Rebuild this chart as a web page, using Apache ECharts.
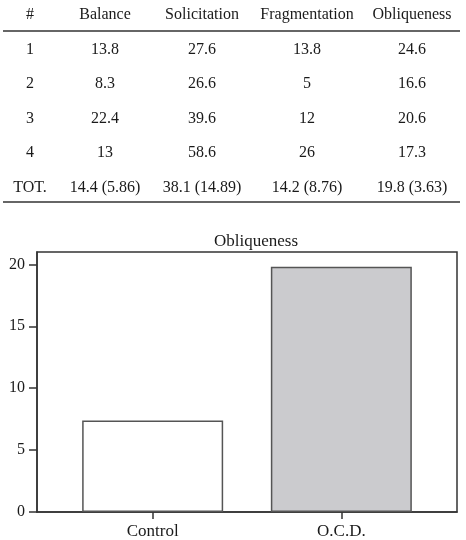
<!DOCTYPE html>
<html>
<head>
<meta charset="utf-8">
<script src="https://cdn.jsdelivr.net/npm/echarts@6/dist/echarts.min.js"></script>
<style>
  html, body { margin: 0; padding: 0; background: #fff; }
  #main { width: 466px; height: 540px; }
</style>
</head>
<body>
<div id="main"></div>
<script>
// table data
var header = ['#', 'Balance', 'Solicitation', 'Fragmentation', 'Obliqueness'];
var rowIds = ['1', '2', '3', '4', 'TOT.'];
var balance = ['13.8', '8.3', '22.4', '13', '14.4 (5.86)'];
var solicitation = ['27.6', '26.6', '39.6', '58.6', '38.1 (14.89)'];
var fragmentation = ['13.8', '5', '12', '26', '14.2 (8.76)'];
var obliqueness = ['24.6', '16.6', '20.6', '17.3', '19.8 (3.63)'];

// chart data
var groups = ['Control', 'O.C.D.'];
var obliquenessMeans = [7.4, 19.8];
var yTicks = [0, 5, 10, 15, 20];

var serif = "'Liberation Serif', 'Times New Roman', serif";
var ink = '#1a1a1a';

// table layout
var colX = [30, 105, 202, 307, 412];
var headerY = 15;
var rowY = [49.5, 84, 118.5, 153, 187.5];

var graphics = [];
function addText(x, y, str) {
    graphics.push({
        type: 'text', x: x, y: y, silent: true,
        style: { text: str, fill: ink, font: '16px ' + serif, align: 'center', verticalAlign: 'middle' }
    });
}
header.forEach(function (h, i) { addText(colX[i], headerY, h); });
var columns = [rowIds, balance, solicitation, fragmentation, obliqueness];
columns.forEach(function (col, c) {
    col.forEach(function (v, r) { addText(colX[c], rowY[r], v); });
});
[31, 202].forEach(function (y) {
    graphics.push({
        type: 'line', silent: true,
        shape: { x1: 3, y1: y, x2: 460, y2: y },
        style: { stroke: '#333', lineWidth: 1.5 }
    });
});

var myChart = echarts.init(document.getElementById('main'));

option = {
    animation: false,
    backgroundColor: '#fff',
    title: {
        text: 'Obliqueness',
        left: 251,
        top: 228,
        textAlign: 'center',
        textStyle: { fontFamily: serif, fontSize: 17, fontWeight: 'normal', color: ink }
    },
    graphic: graphics,
    grid: {
        left: 37, right: 9, top: 252, bottom: 27,
        show: true, borderColor: '#333', borderWidth: 1.5
    },
    xAxis: {
        type: 'value',
        min: 0.387,
        max: 2.613,
        splitLine: { show: false },
        axisLine: { show: true, lineStyle: { color: '#333', width: 1.5 } },
        axisTick: { show: true, length: 7, customValues: [1, 2], lineStyle: { color: '#333', width: 1.5 } },
        axisLabel: {
            customValues: [1, 2],
            margin: 11,
            fontFamily: serif, fontSize: 17, color: ink,
            formatter: function (v) { return groups[Math.round(v) - 1]; }
        }
    },
    yAxis: {
        type: 'value',
        min: 0,
        max: 21,
        interval: 5,
        splitLine: { show: false },
        axisLine: { show: true, lineStyle: { color: '#333', width: 1.5 } },
        axisTick: { show: true, length: 8, customValues: yTicks, lineStyle: { color: '#333', width: 1.5 } },
        axisLabel: { customValues: yTicks, margin: 12, fontFamily: serif, fontSize: 16, color: ink }
    },
    series: [
        {
            type: 'bar',
            barWidth: 141,
            data: obliquenessMeans.map(function (v, i) {
                return {
                    value: [i + 1, v],
                    itemStyle: { color: i === 0 ? '#ffffff' : '#cbcbce' }
                };
            }),
            itemStyle: { borderColor: '#555', borderWidth: 1.5 }
        }
    ]
};

myChart.setOption(option);
</script>
</body>
</html>
